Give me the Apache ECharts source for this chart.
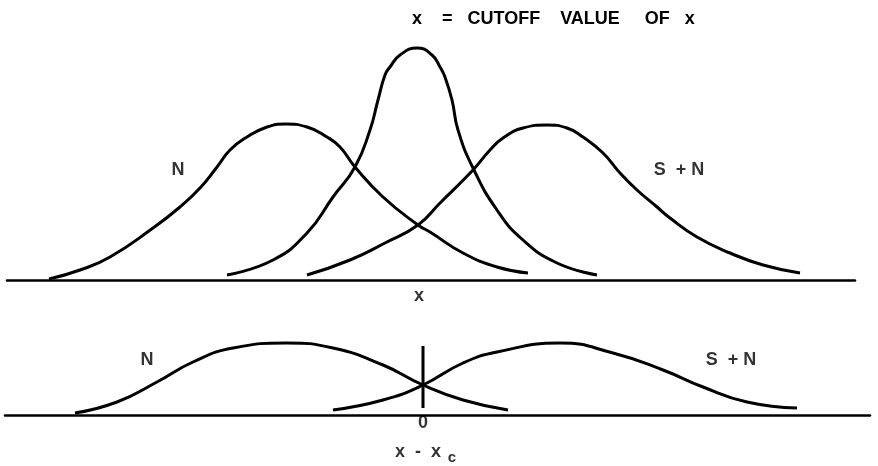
<!DOCTYPE html>
<html>
<head>
<meta charset="utf-8">
<script src="https://cdn.jsdelivr.net/npm/echarts@6/dist/echarts.min.js"></script>
<style>
  html, body { margin: 0; padding: 0; background: #fff; }
  #chart { width: 878px; height: 466px; }
</style>
</head>
<body>
<div id="chart"></div>
<script>
// top panel: x measured from the cutoff, y = height above the baseline
const topNoise = [
  [-371, 1], [-340, 10], [-310, 23], [-267, 52], [-240, 73], [-220, 92], [-203, 113],
  [-190, 130], [-173, 143], [-153, 153], [-135, 156], [-113, 153], [-93, 143], [-80, 133],
  [-65, 113], [-37, 83], [-2, 55], [10, 48], [43, 27], [77, 13], [108, 7]
]
const topMiddle = [
  [-193, 5], [-147, 20], [-113, 47], [-87, 83], [-65, 113], [-50, 150], [-42, 180],
  [-35, 205], [-30, 213], [-20, 225], [-3, 232], [12, 225], [20, 213], [25, 203],
  [32, 180], [38, 150], [53, 112], [77, 70], [103, 40], [137, 17], [177, 5]
]
const topSignal = [
  [-113, 5], [-70, 20], [-35, 37], [-2, 55], [20, 77], [53, 110], [70, 130], [83, 142],
  [103, 152], [127, 155], [147, 152], [163, 143], [183, 127], [200, 107], [217, 90],
  [237, 73], [250, 62], [277, 43], [310, 27], [343, 15], [380, 7]
]
const topLabels = [
  ['N', -242, 110],
  ['S  + N', 259, 110],
  ['x', -1, -16]
]

// bottom panel: x - xc
const bottomNoise = [
  [-348, 2], [-306, 13], [-266, 33], [-230, 53], [-190, 67], [-136, 72], [-90, 67],
  [-40, 50], [0, 30], [40, 15], [85, 5]
]
const bottomSignal = [
  [-90, 5], [-40, 15], [0, 30], [40, 52], [74, 63], [137, 72], [190, 62], [240, 45],
  [280, 28], [324, 13], [374, 7]
]
const cutoffLine = [[0, 7], [0, 69]]
const bottomLabels = [
  ['N', -276, 55],
  ['S  + N', 308, 55],
  ['0', 0, -8],
  ['x  -  x', -5, -37]
]
const subscriptLabels = [
  ['c', 29, -43]
]

const titleText = 'x    =   CUTOFF    VALUE     OF   x'

const font = '"Liberation Sans", Arial, sans-serif'
const ink = '#000000'

const curve = (data, gridIndex) => ({
  type: 'line',
  xAxisIndex: gridIndex,
  yAxisIndex: gridIndex,
  data: data,
  smooth: 0.5,
  showSymbol: false,
  silent: true,
  lineStyle: { color: ink, width: 3 }
})

const labels = (items, gridIndex, size) => ({
  type: 'scatter',
  xAxisIndex: gridIndex,
  yAxisIndex: gridIndex,
  symbolSize: 0,
  clip: false,
  silent: true,
  data: items.map((item) => ({ name: item[0], value: [item[1], item[2]] })),
  label: {
    show: true,
    position: 'inside',
    formatter: (p) => p.name,
    color: ink,
    fontFamily: font,
    fontWeight: 'bold',
    fontSize: size
  }
})

const axisX = (gridIndex, min, max) => ({
  type: 'value',
  gridIndex: gridIndex,
  min: min,
  max: max,
  axisLine: { show: true, onZero: true, lineStyle: { color: ink, width: 2.5 } },
  axisTick: { show: false },
  axisLabel: { show: false },
  splitLine: { show: false }
})

const axisY = (gridIndex, min, max) => ({
  type: 'value',
  gridIndex: gridIndex,
  min: min,
  max: max,
  show: false,
  splitLine: { show: false }
})

const chart = echarts.init(document.getElementById('chart'))
chart.setOption({
  animation: false,
  backgroundColor: '#ffffff',
  title: {
    text: titleText,
    left: 407,
    top: 5,
    textStyle: { color: ink, fontFamily: font, fontWeight: 'bold', fontSize: 18 }
  },
  grid: [
    { left: 7, right: 23, top: 0, height: 300 },
    { left: 5, right: 8, top: 300, height: 160 }
  ],
  xAxis: [axisX(0, -413, 435), axisX(1, -418, 447)],
  yAxis: [axisY(0, -20, 280), axisY(1, -45, 115)],
  series: [
    curve(topNoise, 0),
    curve(topMiddle, 0),
    curve(topSignal, 0),
    labels(topLabels, 0, 18),
    curve(bottomNoise, 1),
    curve(bottomSignal, 1),
    { ...curve(cutoffLine, 1), smooth: false },
    labels(bottomLabels, 1, 18),
    labels(subscriptLabels, 1, 15)
  ]
})
</script>
</body>
</html>
